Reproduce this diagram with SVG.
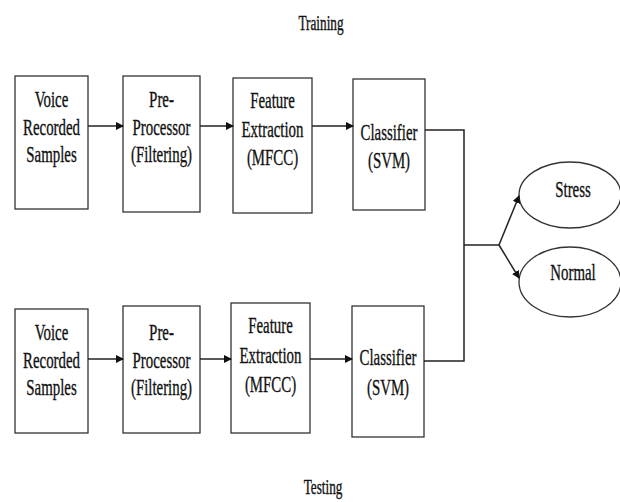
<svg xmlns="http://www.w3.org/2000/svg" width="620" height="502" viewBox="0 0 620 502">
<style>
.box{fill:#fff;stroke:#333;stroke-width:1.3}
.ell{fill:#fff;stroke:#333;stroke-width:1.3}
.t{font-family:"Liberation Serif","Times New Roman",serif;font-size:24px;fill:#111;stroke:#111;stroke-width:0.35;text-anchor:middle}
.h{font-size:20px}
.c{fill:none;stroke:#222;stroke-width:1.5}
</style>
<defs>
<marker id="ah" markerWidth="8" markerHeight="8" refX="7" refY="4" orient="auto" markerUnits="userSpaceOnUse">
<path d="M0,0 L8,4 L0,8 Z" fill="#111"/>
</marker>
</defs>
<rect width="620" height="502" fill="#fff"/>
<text class="t h" transform="translate(321,30) scale(0.66,1)">Training</text>
<text class="t h" transform="translate(323,494) scale(0.66,1)">Testing</text>

<g id="t1"><rect class="box" x="15" y="76" width="73" height="133"/>
<text class="t" transform="translate(51.5,107) scale(0.62,1)">Voice</text>
<text class="t" transform="translate(51.5,135) scale(0.62,1)">Recorded</text>
<text class="t" transform="translate(51.5,162) scale(0.62,1)">Samples</text></g>
<g id="t2"><rect class="box" x="123" y="76" width="77" height="136"/>
<text class="t" transform="translate(161.5,107) scale(0.62,1)">Pre-</text>
<text class="t" transform="translate(161.5,135) scale(0.62,1)">Processor</text>
<text class="t" transform="translate(161.5,162) scale(0.62,1)">(Filtering)</text></g>
<g id="t3"><rect class="box" x="233" y="78" width="79" height="135"/>
<text class="t" transform="translate(272.5,108) scale(0.62,1)">Feature</text>
<text class="t" transform="translate(272.5,137) scale(0.62,1)">Extraction</text>
<text class="t" transform="translate(272.5,165) scale(0.62,1)">(MFCC)</text></g>
<g id="t4"><rect class="box" x="353" y="79" width="72" height="131"/>
<text class="t" transform="translate(389,140) scale(0.62,1)">Classifier</text>
<text class="t" transform="translate(389,168) scale(0.62,1)">(SVM)</text></g>

<g id="b1"><rect class="box" x="15" y="309" width="73" height="124"/>
<text class="t" transform="translate(51.5,340) scale(0.62,1)">Voice</text>
<text class="t" transform="translate(51.5,368) scale(0.62,1)">Recorded</text>
<text class="t" transform="translate(51.5,395) scale(0.62,1)">Samples</text></g>
<g id="b2"><rect class="box" x="123" y="306" width="77" height="127"/>
<text class="t" transform="translate(161.5,340) scale(0.62,1)">Pre-</text>
<text class="t" transform="translate(161.5,368) scale(0.62,1)">Processor</text>
<text class="t" transform="translate(161.5,395) scale(0.62,1)">(Filtering)</text></g>
<g id="b3"><rect class="box" x="231" y="303" width="79" height="130"/>
<text class="t" transform="translate(270.5,333) scale(0.62,1)">Feature</text>
<text class="t" transform="translate(270.5,363) scale(0.62,1)">Extraction</text>
<text class="t" transform="translate(270.5,392) scale(0.62,1)">(MFCC)</text></g>
<g id="b4"><rect class="box" x="352" y="306" width="72" height="131"/>
<text class="t" transform="translate(388,365) scale(0.62,1)">Classifier</text>
<text class="t" transform="translate(388,395) scale(0.62,1)">(SVM)</text></g>

<g id="stress"><ellipse class="ell" cx="570" cy="195" rx="51" ry="33"/>
<text class="t" transform="translate(573,197) scale(0.62,1)">Stress</text></g>
<g id="normal"><ellipse class="ell" cx="570" cy="282" rx="51" ry="35"/>
<text class="t" transform="translate(573,280) scale(0.62,1)">Normal</text></g>

<g id="connectors">
<line class="c" x1="88" y1="126" x2="123" y2="126" marker-end="url(#ah)"/>
<line class="c" x1="200" y1="126" x2="233" y2="126" marker-end="url(#ah)"/>
<line class="c" x1="312" y1="126" x2="353" y2="126" marker-end="url(#ah)"/>
<line class="c" x1="88" y1="359" x2="123" y2="359" marker-end="url(#ah)"/>
<line class="c" x1="200" y1="359" x2="231" y2="359" marker-end="url(#ah)"/>
<line class="c" x1="310" y1="359" x2="352" y2="359" marker-end="url(#ah)"/>
<polyline class="c" points="425,130 464,130 464,361 424,361"/>
<line class="c" x1="464" y1="245" x2="499" y2="245"/>
<line class="c" x1="499" y1="245" x2="519" y2="196" marker-end="url(#ah)"/>
<line class="c" x1="499" y1="245" x2="519" y2="278" marker-end="url(#ah)"/>
</g>
</svg>
